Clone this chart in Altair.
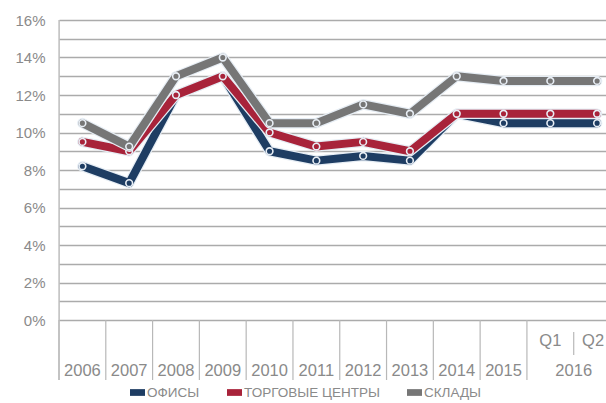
import altair as alt
import pandas as pd

CATEGORIES = ["2006", "2007", "2008", "2009", "2010", "2011", "2012", "2013",
              "2014", "2015", "Q1", "Q2"]
GROUP_LABEL = "2016"
SERIES = ["ОФИСЫ", "ТОРГОВЫЕ ЦЕНТРЫ", "СКЛАДЫ"]
OFFICES = [8.2, 7.3, 12.0, 13.0, 9.0, 8.5, 8.75, 8.5, 11.0, 10.5, 10.5, 10.5]
RETAIL = [9.5, 9.0, 12.0, 13.0, 10.0, 9.25, 9.5, 9.0, 11.0, 11.0, 11.0, 11.0]
WAREHOUSES = [10.5, 9.25, 13.0, 14.0, 10.5, 10.5, 11.5, 11.0, 13.0, 12.75, 12.75, 12.75]
COLORS = ["#1e3d63", "#a8233a", "#767676"]

rows = []
for name, vals in zip(SERIES, [OFFICES, RETAIL, WAREHOUSES]):
    for i, v in enumerate(vals):
        rows.append({"series": name, "i": i, "cat": CATEGORIES[i], "value": v / 100})
df = pd.DataFrame(rows)

FONT = "Liberation Sans"
TXT = "#8a8a8a"

xscale = alt.Scale(domain=[-0.5, 11.19], nice=False, zero=False)
yscale = alt.Scale(domain=[0, 0.16], nice=False, zero=True)
yaxis = alt.Axis(
    values=[k / 100 for k in range(17)],
    labelExpr="round(datum.value*100) % 2 == 0 ? round(datum.value*100) + '%' : ''",
    grid=True, gridColor="#ababab", gridWidth=1.5,
    domain=False, ticks=False, tickSize=0, labelPadding=14,
    labelFontSize=15, labelColor=TXT, labelFont=FONT, title=None,
)
color = alt.Color(
    "series:N",
    scale=alt.Scale(domain=SERIES, range=COLORS),
    sort=SERIES,
    legend=alt.Legend(
        orient="none", legendX=71, legendY=365, direction="horizontal", title=None,
        symbolType="M-1,-0.45L1,-0.45L1,0.45L-1,0.45Z", symbolSize=225,
        labelFontSize=13.5, labelColor=TXT, labelFont=FONT, columnPadding=27,
        labelOffset=2, symbolStrokeWidth=0,
    ),
)

base = alt.Chart(df)
layers = []

# grid carrier
layers.append(
    base.mark_line(opacity=0).encode(
        x=alt.X("i:Q", scale=xscale, axis=None),
        y=alt.Y("value:Q", scale=yscale, axis=yaxis),
    )
)

# category separators
bounds_full = pd.DataFrame({"b": [k - 0.5 for k in range(11)]})
bounds_sub = pd.DataFrame({"b": [10.5]})
layers.append(
    alt.Chart(bounds_full).mark_rule(color="#b8b8b8", strokeWidth=1.2).encode(
        x=alt.X("b:Q", scale=xscale, axis=None), y=alt.value(300), y2=alt.value(360)
    )
)
layers.append(
    alt.Chart(pd.DataFrame({"b": [-0.5]})).mark_rule(color="#b8b8b8", strokeWidth=1.2).encode(
        x=alt.X("b:Q", scale=xscale, axis=None), y=alt.value(0), y2=alt.value(360)
    )
)
layers.append(
    alt.Chart(bounds_sub).mark_rule(color="#b8b8b8", strokeWidth=1.2).encode(
        x=alt.X("b:Q", scale=xscale, axis=None), y=alt.value(312), y2=alt.value(335)
    )
)

# category labels
lab_df = pd.DataFrame({"i": list(range(len(CATEGORIES))), "cat": CATEGORIES})
layers.append(
    alt.Chart(lab_df).transform_filter("datum.i < 10").mark_text(
        font=FONT, fontSize=16.5, color=TXT, baseline="middle", align="center"
    ).encode(x=alt.X("i:Q", scale=xscale, axis=None), y=alt.value(351), text="cat:N")
)
layers.append(
    alt.Chart(lab_df).transform_filter("datum.i == 10").mark_text(
        font=FONT, fontSize=16.5, color=TXT, baseline="middle", align="center"
    ).encode(x=alt.X("i:Q", scale=xscale, axis=None), y=alt.value(321), text="cat:N")
)
layers.append(
    alt.Chart(lab_df).transform_filter("datum.i == 11").mark_text(
        font=FONT, fontSize=16.5, color=TXT, baseline="middle", align="center", dx=-4
    ).encode(x=alt.X("i:Q", scale=xscale, axis=None), y=alt.value(321), text="cat:N")
)
layers.append(
    alt.Chart(pd.DataFrame({"i": [10.5], "cat": [GROUP_LABEL]})).mark_text(
        font=FONT, fontSize=16.5, color=TXT, baseline="middle", align="center"
    ).encode(x=alt.X("i:Q", scale=xscale, axis=None), y=alt.value(351), text="cat:N")
)

for name in SERIES:
    s = base.transform_filter(alt.datum.series == name)
    enc = dict(
        x=alt.X("i:Q", scale=xscale, axis=None),
        y=alt.Y("value:Q", scale=yscale, axis=yaxis),
    )
    layers.append(
        s.mark_line(color="#e6edf4", strokeWidth=10.5, strokeJoin="round", strokeCap="round").encode(**enc)
    )
    layers.append(
        s.mark_line(strokeWidth=8, strokeJoin="round", strokeCap="round").encode(color=color, **enc)
    )
    layers.append(
        s.mark_circle(size=45, opacity=1, stroke="#e8eef5", strokeWidth=1.6).encode(color=color, **enc)
    )

chart = alt.layer(*layers).properties(
    width=547, height=300,
    autosize=alt.AutoSizeParams(type="none"),
    padding={"left": 59, "top": 20, "right": 0, "bottom": 83},
).configure_view(stroke=None).configure(background="white")

chart.save("out.html", embed_options={"renderer": "svg", "actions": False})
